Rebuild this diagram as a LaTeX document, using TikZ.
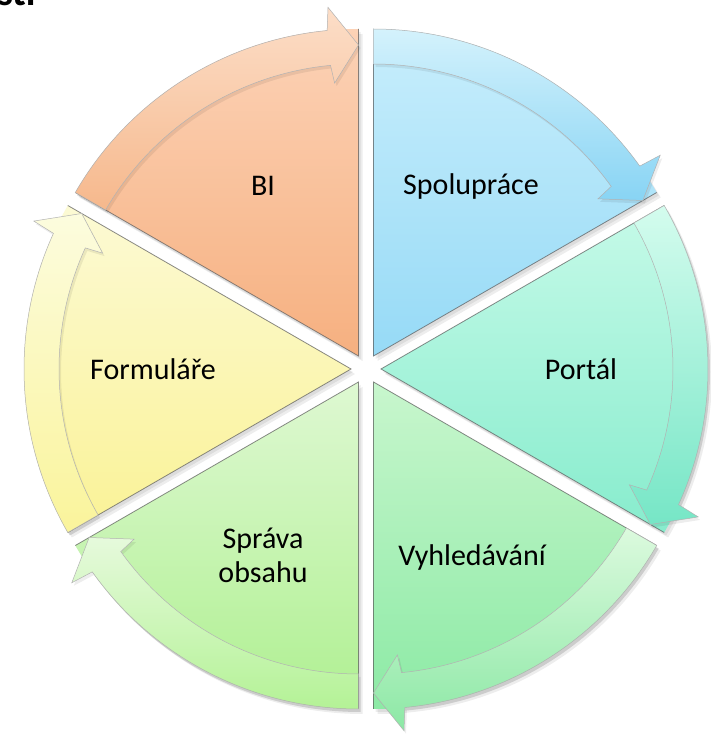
\documentclass[tikz,border=0pt]{standalone}
\usepackage{fontspec}
\setmainfont{Carlito}
\usetikzlibrary{calc}

\definecolor{wOt}{RGB}{252,210,182}\definecolor{wOb}{RGB}{246,176,128}
\definecolor{bOt}{RGB}{252,222,200}\definecolor{bOb}{RGB}{246,184,140}
\definecolor{wBt}{RGB}{200,238,252}\definecolor{wBb}{RGB}{150,218,246}
\definecolor{bBt}{RGB}{212,242,252}\definecolor{bBb}{RGB}{136,212,244}
\definecolor{wPt}{RGB}{198,250,232}\definecolor{wPb}{RGB}{135,236,205}
\definecolor{bPt}{RGB}{212,252,238}\definecolor{bPb}{RGB}{118,230,198}
\definecolor{wVt}{RGB}{200,246,205}\definecolor{wVb}{RGB}{140,234,165}
\definecolor{bVt}{RGB}{220,250,222}\definecolor{bVb}{RGB}{140,232,165}
\definecolor{wSt}{RGB}{222,248,210}\definecolor{wSb}{RGB}{175,240,145}
\definecolor{bSt}{RGB}{230,250,220}\definecolor{bSb}{RGB}{180,242,150}
\definecolor{wFt}{RGB}{252,250,212}\definecolor{wFb}{RGB}{250,242,150}
\definecolor{bFt}{RGB}{252,252,222}\definecolor{bFb}{RGB}{250,244,155}

\tikzset{
  edgeline/.style={draw=black!65,line width=0.8pt,opacity=0.7},
  softshadow/.style={fill=black,opacity=0.07},
  bandedge/.style={draw=black!30,line width=0.5pt},
  lbl/.style={font=\fontsize{30}{34}\selectfont,anchor=base,align=center,inner sep=0pt}
}

% #1 start angle, #2 wedge top, #3 wedge bottom, #4 band top, #5 band bottom
\newcommand\cyclesegment[5]{%
  \begin{scope}[shift={($(C)+(#1-30:15)$)}]
    \foreach \sx/\sy in {2/-3,4/-5}{
      \fill[softshadow,shift={(\sx,\sy)}] (0,0) -- (#1:327)
        arc[start angle=#1,end angle=#1-60,radius=327] -- cycle;}
    \shade[top color=#2,bottom color=#3] (0,0) -- (#1:327)
      arc[start angle=#1,end angle=#1-60,radius=327] -- cycle;
    \draw[edgeline] (#1:327) -- (0,0) -- (#1-60:327);
    \fill[softshadow,shift={(2,-3)}] (#1:292)
      arc[start angle=#1,end angle=#1-54.5,radius=292]
      -- (#1-55:274) -- (#1-60:311) -- (#1-55:350) -- (#1-54.5:327)
      arc[start angle=#1-54.5,end angle=#1,radius=327] -- cycle;
    \shade[top color=#4,bottom color=#5,bandedge] (#1:292)
      arc[start angle=#1,end angle=#1-54.5,radius=292]
      -- (#1-55:274) -- (#1-60:311) -- (#1-55:350) -- (#1-54.5:327)
      arc[start angle=#1-54.5,end angle=#1,radius=327] -- cycle;
  \end{scope}}

\begin{document}
\begin{tikzpicture}[x=1pt,y=1pt]
\useasboundingbox (0,0) rectangle (710,735);
\fill[white] (0,0) rectangle (710,735);
\coordinate (C) at (366,366);

\cyclesegment{150}{wOt}{wOb}{bOt}{bOb}
\cyclesegment{90}{wBt}{wBb}{bBt}{bBb}
\cyclesegment{30}{wPt}{wPb}{bPt}{bPb}
\cyclesegment{-30}{wVt}{wVb}{bVt}{bVb}
\cyclesegment{-90}{wSt}{wSb}{bSt}{bSb}
\cyclesegment{210}{wFt}{wFb}{bFt}{bFb}

\node[lbl] (bi) at (263,539) {BI};
\node[lbl] (spo) at (471,540) {Spolupráce};
\node[lbl] (por) at (581,355) {Portál};
\node[lbl] (vyh) at (472,169) {Vyhledávání};
\node[lbl] (spr) at (263,152) {Správa\\obsahu};
\node[lbl] (for) at (153,355) {Formuláře};
\node[font=\fontsize{40}{44}\selectfont\bfseries,anchor=base west,inner sep=0pt] (ttl) at (-3,729) {sti};
\end{tikzpicture}
\end{document}
